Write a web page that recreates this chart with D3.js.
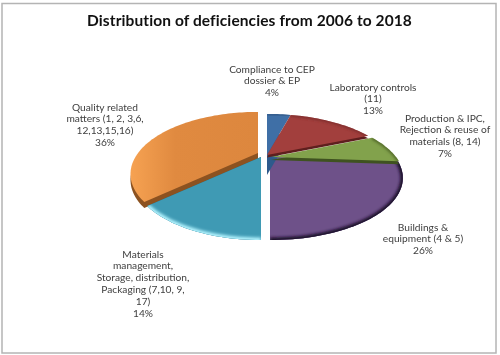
<!DOCTYPE html>
<html>
<head>
<meta charset="utf-8">
<script src="https://cdn.jsdelivr.net/npm/d3@7"></script>
<style>
  html, body { margin: 0; background: #fff; }
  svg { display: block; filter: blur(0.4px); }
  text { font-family: Lato, sans-serif; }
</style>
</head>
<body>
<div id="chart"></div>
<script>
// Données
const titleText = 'Distribution of deficiencies from 2006 to 2018'
const sectors = ['compliance', 'laboratory', 'production', 'buildings', 'materials', 'quality']
const shares = [4, 13, 7, 26, 14, 36]
const labelLines = [
  ['Compliance to CEP', 'dossier & EP', '4%'],
  ['Laboratory controls', '(11)', '13%'],
  ['Production & IPC,', 'Rejection & reuse of', 'materials (8, 14)', '7%'],
  ['Buildings &', 'equipment (4 & 5)', '26%'],
  ['Materials', 'management,', 'Storage, distribution,', 'Packaging (7,10, 9,', '17)', '14%'],
  ['Quality related', 'matters (1, 2, 3,6,', '12,13,15,16)', '36%'],
]

// Style de chaque part
const fills = ['#3f6fa6', '#a23f3d', '#82a24c', '#6e5189', '#3f9ab4', 'url(#orange)']
const walls = ['#2e5a8c', '#5e1f1e', '#3f5220', '#3b2a4d', '#24647a', '#8c5220']
const bevels = ['#2b4c75', '#7a2c2a', '#4a5f24', '#170c26', '#b4f4ff', 'none']
const bevelWidth = [2, 3, 3, 5, 5, 0]
const offsets = [[-3, -1], [-3, -1], [1, 1], [0, 1], [-9, 1], [-12, -3]]
const wallDepth = [20, 2.5, 3, 0, 0, 6]
const labelPos = [[272, 69], [373, 87], [445, 118], [423, 227], [143, 254], [105, 107]]
// Ordre de dessin : violet d'abord, les parois passent par-dessus
const drawOrder = [3, 0, 2, 1, 5, 4]

const width = 500, height = 355
const lineStep = 11.8

// Disque en perspective : centre (cx, cy), k = force de la perspective
const cx = 270, cy = 156, aRight = 125, aLeft = 120, b = 55, k = 0.338
const warp = 0.14   // déformation des angles du rendu 3D d'origine

function project(angle) {
  const theta = angle + warp * Math.sin(angle) ** 3
  const u = Math.sin(theta), v = Math.cos(theta)
  const s = 1 / (1 + k * v)
  return [cx + (u < 0 ? aLeft : aRight) * u * s, cy - b * v * s]
}

function rimPoints(d) {
  const n = Math.max(2, Math.ceil((d.endAngle - d.startAngle) / 0.03))
  return d3.range(n + 1).map(i => project(d.startAngle + (d.endAngle - d.startAngle) * i / n))
}

const line = d3.line()
const slicePath = d => line([[cx, cy], ...rimPoints(d)]) + 'Z'

const svg = d3.select('#chart').append('svg')
  .attr('width', width)
  .attr('height', height)

const defs = svg.append('defs')
defs.append('filter').attr('id', 'soft')
  .attr('x', '-20%').attr('y', '-20%').attr('width', '140%').attr('height', '140%')
  .append('feGaussianBlur').attr('stdDeviation', 1.8)

// Orange plus clair vers la gauche
const orange = defs.append('linearGradient').attr('id', 'orange')
orange.append('stop').attr('offset', '0%').attr('stop-color', '#f6a252')
orange.append('stop').attr('offset', '35%').attr('stop-color', '#e08a40')
orange.append('stop').attr('offset', '100%').attr('stop-color', '#dd873e')

// Cadre
svg.append('rect')
  .attr('x', 2).attr('y', 3.5)
  .attr('width', 494).attr('height', 349.5)
  .attr('fill', '#fff')
  .attr('stroke', '#b4b4b4')
  .attr('stroke-width', 1.5)

// Titre
svg.append('text')
  .attr('x', 249.5).attr('y', 26)
  .attr('text-anchor', 'middle')
  .attr('font-size', 15.5)
  .attr('font-weight', 700)
  .attr('letter-spacing', 0.1)
  .attr('fill', '#111')
  .text(titleText)

const arcs = d3.pie().sort(null)(shares)

// Tranches
const slices = svg.append('g').selectAll('g')
  .data(drawOrder.map(i => arcs[i]))
  .join('g')
  .attr('transform', d => `translate(${offsets[d.index][0]},${offsets[d.index][1]})`)

slices.append('path')
  .attr('d', slicePath)
  .attr('transform', d => `translate(0,${wallDepth[d.index]})`)
  .attr('fill', d => walls[d.index])

slices.append('clipPath')
  .attr('id', d => 'clip-' + sectors[d.index])
  .append('path')
  .attr('d', slicePath)

slices.append('path')
  .attr('d', slicePath)
  .attr('fill', d => fills[d.index])

// Biseau le long du bord
slices.append('g')
  .attr('clip-path', d => `url(#clip-${sectors[d.index]})`)
  .append('path')
  .attr('d', d => line(rimPoints(d)))
  .attr('fill', 'none')
  .attr('stroke', d => bevels[d.index])
  .attr('stroke-width', d => bevelWidth[d.index])
  .attr('filter', 'url(#soft)')

// Étiquettes
const labels = svg.append('g').selectAll('text')
  .data(labelLines)
  .join('text')
  .attr('text-anchor', 'middle')
  .attr('font-size', 10.2)
  .attr('fill', '#404040')

labels.selectAll('tspan')
  .data((d, i) => d.map((t, j) => ({ t, x: labelPos[i][0], y: labelPos[i][1] + 3.5 + j * lineStep })))
  .join('tspan')
  .attr('x', d => d.x)
  .attr('y', d => d.y)
  .text(d => d.t)
</script>
</body>
</html>
